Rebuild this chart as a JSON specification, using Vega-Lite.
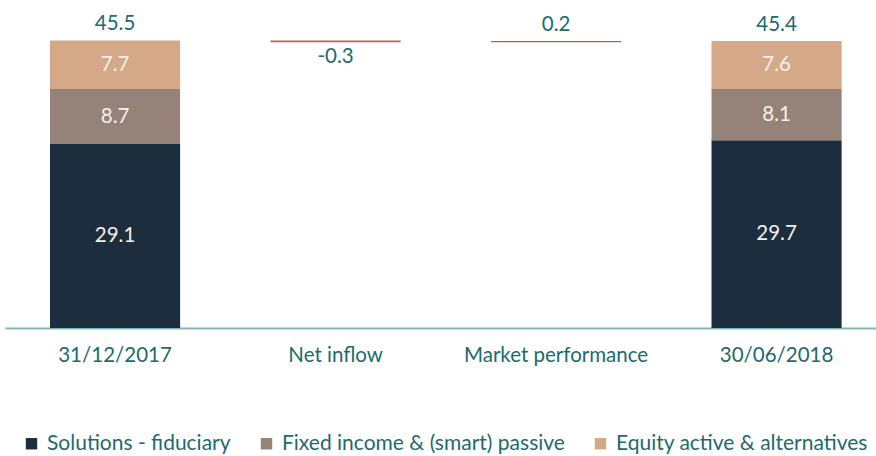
{
  "$schema": "https://vega.github.io/schema/vega-lite/v6.json",
  "autosize": {"type": "none"},
  "width": 871,
  "height": 316,
  "padding": {"left": 5, "top": 12, "right": 0, "bottom": 128},
  "background": "white",
  "config": {
    "view": {"stroke": null},
    "font": "Lato",
    "text": {"font": "Lato"}
  },
  "datasets": {
    "segments": [
      {"date": "31/12/2017", "segment": "Solutions - fiduciary", "order": 1, "value": 29.1},
      {"date": "31/12/2017", "segment": "Fixed income & (smart) passive", "order": 2, "value": 8.7},
      {"date": "31/12/2017", "segment": "Equity active & alternatives", "order": 3, "value": 7.7},
      {"date": "30/06/2018", "segment": "Solutions - fiduciary", "order": 1, "value": 29.7},
      {"date": "30/06/2018", "segment": "Fixed income & (smart) passive", "order": 2, "value": 8.1},
      {"date": "30/06/2018", "segment": "Equity active & alternatives", "order": 3, "value": 7.6}
    ],
    "steps": [
      {"date": "31/12/2017", "kind": "total", "start": 0, "end": 45.5, "label": "45.5"},
      {"date": "Net inflow", "kind": "change", "start": 45.5, "end": 45.2, "label": "-0.3"},
      {"date": "Market performance", "kind": "change", "start": 45.2, "end": 45.4, "label": "0.2"},
      {"date": "30/06/2018", "kind": "total", "start": 0, "end": 45.4, "label": "45.4"}
    ]
  },
  "encoding": {
    "x": {
      "field": "date",
      "type": "nominal",
      "scale": {
        "domain": ["31/12/2017", "Net inflow", "Market performance", "30/06/2018"],
        "paddingInner": 0.41,
        "paddingOuter": 0.18,
        "align": 0.567
      },
      "axis": {
        "title": null,
        "labelAngle": 0,
        "ticks": false,
        "labelFontSize": 20.5,
        "labelColor": "#1d6b6b",
        "labelPadding": 17,
        "labelLimit": 400,
        "domainColor": "#86b4b8",
        "domainWidth": 2
      }
    }
  },
  "layer": [
    {
      "data": {"name": "segments"},
      "mark": {"type": "bar"},
      "encoding": {
        "y": {
          "field": "value",
          "type": "quantitative",
          "aggregate": "sum",
          "stack": "zero",
          "scale": {"domain": [0, 50], "nice": false},
          "axis": null
        },
        "order": {"field": "order", "type": "quantitative"},
        "color": {
          "field": "segment",
          "type": "nominal",
          "scale": {
            "domain": ["Solutions - fiduciary", "Fixed income & (smart) passive", "Equity active & alternatives"],
            "range": ["#1c2e3d", "#95837a", "#d5a987"]
          },
          "legend": {
            "title": null,
            "orient": "none",
            "direction": "horizontal",
            "legendX": 16,
            "legendY": 421,
            "padding": 0,
            "symbolType": "square",
            "symbolSize": 130,
            "symbolStrokeWidth": 0,
            "labelFontSize": 21,
            "labelColor": "#1d6b6b",
            "labelOffset": 5,
            "columnPadding": 25,
            "labelLimit": 400
          }
        }
      }
    },
    {
      "data": {"name": "segments"},
      "transform": [
        {"stack": "value", "groupby": ["date"], "sort": [{"field": "order"}], "as": ["v0", "v1"]},
        {"calculate": "(datum.v0 + datum.v1) / 2", "as": "mid"}
      ],
      "mark": {"type": "text", "fontSize": 20.5, "color": "#f3efe9", "baseline": "middle"},
      "encoding": {
        "y": {"field": "mid", "type": "quantitative"},
        "text": {"field": "value", "type": "quantitative", "format": ".1f"}
      }
    },
    {
      "data": {"name": "steps"},
      "transform": [{"filter": "datum.kind == 'change'"}],
      "mark": {"type": "bar", "color": "#c0603f"},
      "encoding": {
        "y": {"field": "start", "type": "quantitative"},
        "y2": {"field": "end"}
      }
    },
    {
      "data": {"name": "steps"},
      "transform": [{"filter": "datum.end >= datum.start"}],
      "mark": {"type": "text", "fontSize": 20.5, "color": "#1d6b6b", "baseline": "alphabetic", "dy": -10},
      "encoding": {
        "y": {"field": "end", "type": "quantitative"},
        "text": {"field": "label", "type": "nominal"}
      }
    },
    {
      "data": {"name": "steps"},
      "transform": [{"filter": "datum.end < datum.start"}],
      "mark": {"type": "text", "fontSize": 20.5, "color": "#1d6b6b", "baseline": "top", "dy": 5},
      "encoding": {
        "y": {"field": "end", "type": "quantitative"},
        "text": {"field": "label", "type": "nominal"}
      }
    }
  ]
}
